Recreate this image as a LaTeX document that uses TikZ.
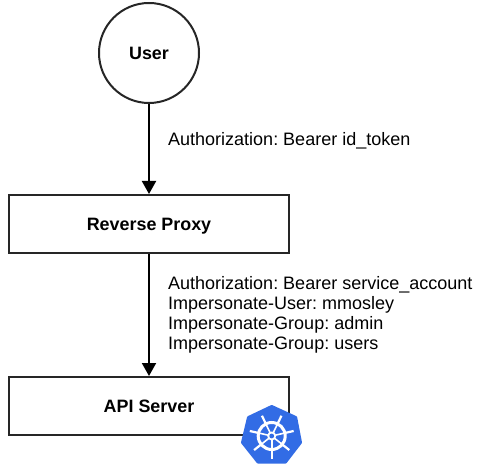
\documentclass[tikz,border=0pt]{standalone}
\usepackage{fontspec}
\setmainfont{Liberation Sans}
\usetikzlibrary{arrows.meta}
\definecolor{kube}{HTML}{326CE5}
\tikzset{
  x=1pt,y=-1pt,
  ln/.style={line width=2pt,draw=black!85},
  boxn/.style={ln,fill=white,rectangle,minimum width=280pt,minimum height=58pt,inner sep=0pt,text height=12.5pt,text depth=0pt,font=\fontsize{17.9}{20}\selectfont\bfseries},
  circn/.style={ln,fill=white,circle,minimum size=100pt,inner sep=0pt,text height=12.5pt,text depth=0pt,font=\fontsize{17.9}{20}\selectfont\bfseries},
  conn/.style={line width=2pt,draw=black,-{Triangle[length=13pt,width=14pt]}},
  lab/.style={anchor=west,align=left,inner sep=0pt,font=\fontsize{18}{20}\selectfont\frenchspacing},
  spoke/.style={white,line width=2pt}
}
\begin{document}
\begin{tikzpicture}
\useasboundingbox (0,0) rectangle (479,470);
\node[circn] (user) at (149,53) {User};
\node[boxn] (proxy) at (149,224) {Reverse Proxy};
\node[boxn] (api) at (149,406) {\raisebox{-0.7pt}{API Server}};
\draw[conn] (user) -- (proxy);
\draw[conn] (proxy) -- (api);
\node[lab] (l1) at (168,141) {Authorization: Bearer id\_token};
\node[lab] (l2) at (168,315) {Authorization: Bearer service\_account\\Impersonate-User: mmosley\\Impersonate-Group: admin\\Impersonate-Group: users};
\fill[kube,draw=kube,line width=3pt,line join=round]
  (271.7,406.5) -- (295.7,417.5) -- (300.5,442.5) -- (285.5,462) -- (258,462) -- (242.5,442.5) -- (248.5,417.5) -- cycle;
\begin{scope}[shift={(271.7,436)}]
\draw[white,line width=3pt] (0,0) circle (13.5);
\foreach \a in {90,141.4,192.9,244.3,295.7,347.1,38.6}{
  \draw[spoke,line width=1.6pt] (\a:3.5) -- (\a:13);
  \draw[spoke,line width=2.2pt] (\a:13) -- (\a:22.5);
}
\fill[white] (0,0) circle (4.5);
\fill[kube] (0,0) circle (2.4);
\end{scope}
\end{tikzpicture}
\end{document}
